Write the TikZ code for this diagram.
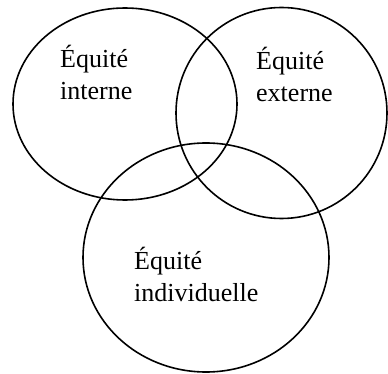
\documentclass[tikz,border=0pt]{standalone}
\usepackage{fontspec}
\setmainfont{Liberation Serif}
\usetikzlibrary{shapes.geometric}
\tikzset{
  setcircle/.style={draw, ellipse, line width=1.6pt, inner sep=0pt, outer sep=0pt},
  label/.style={anchor=base west, inner sep=0pt, align=left, font=\fontsize{26}{32}\selectfont}
}
\begin{document}
\begin{tikzpicture}[x=1pt,y=-1pt]
\useasboundingbox (0,0) rectangle (388,374);
\node[setcircle, minimum width=224pt, minimum height=192pt] (interne) at (125,104) {};
\node[setcircle, minimum width=211pt, minimum height=211pt] (externe) at (281.5,113) {};
\node[setcircle, minimum width=246pt, minimum height=229pt] (indiv) at (206,257.5) {};
\node[label] (tinterne) at (60,100) {Équité\\interne};
\node[label] (texterne) at (256,102) {Équité\\externe};
\node[label] (tindiv) at (134,301) {Équité\\individuelle};
\end{tikzpicture}
\end{document}
